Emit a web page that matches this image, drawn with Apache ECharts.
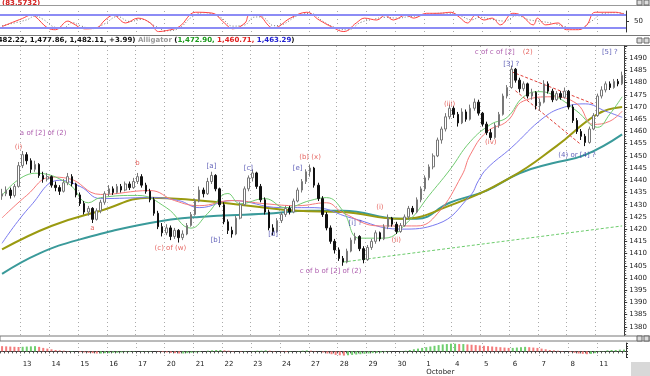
<!DOCTYPE html>
<html>
<head>
<meta charset="utf-8">
<script src="https://cdn.jsdelivr.net/npm/echarts@6/dist/echarts.min.js"></script>
<style>
html, body { margin: 0; padding: 0; background: #fff; }
#chart { width: 650px; height: 376px; }
</style>
</head>
<body>
<div id="chart"></div>
<script>
// trading days shown on the date axis (Sep 10 is a partial day)
const dayLabels = ['10','13','14','15','16','17','20','21','22','23','24','27','28','29','30','1','4','5','6','7','8','11'];
const barsPerDay = [5,7,7,7,7,7,7,7,7,7,7,7,7,7,7,7,7,7,7,7,7,7];
const monthStart = '1';
const monthName = 'October';

// price bars: [open, close, low, high]
const ohlc = [
  [1433.5,1434.5,1432.0,1436.5],[1434.5,1436.0,1433.5,1437.5],[1436.0,1433.8,1432.5,1437.0],[1433.8,1437.5,1433.0,1438.5],
  [1437.5,1446.0,1437.0,1447.5],[1446.0,1450.5,1445.0,1452.0],[1450.5,1448.0,1446.5,1451.5],[1448.0,1444.5,1443.0,1449.0],
  [1444.5,1446.5,1443.5,1448.0],[1446.5,1442.0,1441.0,1447.0],[1442.0,1440.5,1439.0,1443.5],[1440.5,1441.5,1439.5,1443.0],
  [1441.5,1438.0,1437.0,1442.0],[1438.0,1437.0,1435.5,1439.5],[1437.0,1435.5,1434.0,1438.0],[1435.5,1439.0,1435.0,1440.5],
  [1439.0,1441.5,1438.0,1443.0],[1441.5,1438.5,1437.5,1442.5],[1438.5,1434.0,1433.0,1439.0],[1434.0,1430.5,1429.5,1435.0],
  [1430.5,1427.0,1426.0,1431.5],[1427.0,1428.5,1425.5,1429.5],[1428.5,1424.0,1422.5,1429.0],[1424.0,1427.5,1423.5,1428.5],
  [1427.5,1431.0,1426.5,1432.0],[1431.0,1434.5,1430.0,1435.5],[1434.5,1436.5,1433.5,1438.0],[1436.5,1435.0,1434.0,1437.5],
  [1435.0,1437.5,1434.5,1438.5],[1437.5,1436.0,1435.0,1438.5],[1436.0,1438.5,1435.5,1439.5],[1438.5,1437.0,1436.0,1439.5],
  [1437.0,1439.5,1436.5,1441.0],[1439.5,1441.5,1438.5,1443.0],[1441.5,1438.0,1437.0,1442.5],[1438.0,1435.5,1434.5,1439.0],
  [1435.5,1432.0,1431.0,1436.5],[1432.0,1426.5,1425.5,1433.0],[1426.5,1421.0,1420.0,1427.5],[1421.0,1418.5,1417.0,1422.5],
  [1418.5,1420.5,1417.5,1422.0],[1420.5,1417.0,1415.5,1421.5],[1417.0,1419.5,1416.0,1420.5],[1419.5,1416.5,1414.5,1420.0],
  [1416.5,1418.0,1415.5,1419.5],[1418.0,1421.5,1417.5,1422.5],[1421.5,1426.0,1421.0,1427.0],[1426.0,1431.5,1425.5,1432.5],
  [1431.5,1436.0,1431.0,1437.5],[1436.0,1434.5,1433.0,1437.0],[1434.5,1439.5,1434.0,1441.0],[1439.5,1442.0,1438.5,1443.5],
  [1442.0,1436.5,1435.5,1442.5],[1436.5,1430.0,1429.0,1437.0],[1430.0,1423.0,1422.0,1431.0],[1423.0,1419.5,1418.0,1424.0],
  [1419.5,1418.0,1416.5,1421.0],[1418.0,1424.5,1417.5,1425.5],[1424.5,1430.0,1424.0,1431.0],[1430.0,1436.5,1429.5,1437.5],
  [1436.5,1441.0,1435.5,1442.0],[1441.0,1443.0,1439.5,1444.5],[1443.0,1437.5,1436.5,1443.5],[1437.5,1432.0,1431.0,1438.5],
  [1432.0,1427.0,1426.0,1433.0],[1427.0,1420.5,1419.5,1428.0],[1420.5,1419.0,1417.5,1422.0],[1419.0,1423.5,1418.5,1424.5],
  [1423.5,1426.0,1422.5,1427.0],[1426.0,1428.5,1425.0,1429.5],[1428.5,1427.0,1426.0,1429.5],[1427.0,1431.5,1426.5,1432.5],
  [1431.5,1436.0,1431.0,1437.0],[1436.0,1439.5,1435.0,1440.5],[1439.5,1443.5,1438.5,1444.5],[1443.5,1445.0,1441.5,1446.5],
  [1445.0,1438.0,1437.0,1445.5],[1438.0,1432.5,1431.5,1439.0],[1432.5,1426.0,1425.0,1433.5],[1426.0,1420.5,1419.5,1427.0],
  [1420.5,1415.0,1414.0,1421.5],[1415.0,1411.5,1410.0,1416.0],[1411.5,1408.0,1407.0,1412.5],[1408.0,1406.5,1405.0,1409.0],
  [1406.5,1411.0,1406.0,1412.0],[1411.0,1415.5,1410.5,1416.5],[1415.5,1417.0,1414.0,1418.5],[1417.0,1412.0,1411.0,1417.5],
  [1412.0,1407.5,1406.0,1413.0],[1407.5,1412.5,1407.0,1413.5],[1412.5,1415.0,1411.5,1416.0],[1415.0,1418.5,1414.0,1419.5],
  [1418.5,1416.0,1415.0,1419.0],[1416.0,1421.0,1415.5,1422.0],[1421.0,1424.5,1420.0,1426.0],[1424.5,1422.0,1421.0,1425.0],
  [1422.0,1419.0,1418.0,1423.0],[1419.0,1421.5,1418.5,1422.5],[1421.5,1425.0,1421.0,1426.0],[1425.0,1428.5,1424.0,1429.5],
  [1428.5,1427.0,1426.0,1429.5],[1427.0,1432.0,1426.5,1433.0],[1432.0,1436.5,1431.0,1437.5],[1436.5,1441.0,1435.5,1442.0],
  [1441.0,1445.5,1440.0,1446.5],[1445.5,1450.0,1444.5,1451.0],[1450.0,1456.5,1449.5,1457.5],[1456.5,1461.0,1455.0,1462.0],
  [1461.0,1466.0,1460.0,1467.5],[1466.0,1469.5,1465.0,1471.0],[1469.5,1467.0,1465.5,1470.5],[1467.0,1463.5,1462.0,1468.0],
  [1463.5,1468.0,1463.0,1469.5],[1468.0,1465.0,1464.0,1469.0],[1465.0,1469.5,1464.5,1471.0],[1469.5,1472.0,1468.5,1473.5],
  [1472.0,1467.5,1466.5,1473.0],[1467.5,1463.0,1462.0,1468.0],[1463.0,1459.5,1458.5,1464.0],[1459.5,1457.5,1456.5,1461.0],
  [1457.5,1462.5,1457.0,1463.5],[1462.5,1467.0,1461.5,1468.0],[1467.0,1474.5,1466.5,1475.5],[1474.5,1478.0,1473.5,1479.0],
  [1478.0,1485.5,1477.5,1487.0],[1485.5,1481.0,1480.0,1486.0],[1481.0,1477.5,1476.0,1482.0],[1477.5,1479.5,1476.5,1480.5],
  [1479.5,1474.5,1473.5,1480.0],[1474.5,1476.0,1473.0,1477.5],[1476.0,1470.5,1469.0,1476.5],[1470.5,1472.0,1468.5,1473.5],
  [1472.0,1479.5,1471.5,1481.0],[1479.5,1476.5,1475.5,1480.5],[1476.5,1473.0,1472.0,1477.5],[1473.0,1475.5,1472.5,1476.5],
  [1475.5,1474.0,1473.0,1476.5],[1474.0,1476.5,1473.5,1478.0],[1476.5,1470.0,1469.0,1477.0],[1470.0,1464.5,1463.5,1471.0],
  [1464.5,1460.0,1459.0,1465.5],[1460.0,1458.0,1456.5,1461.0],[1458.0,1455.5,1454.0,1459.0],[1455.5,1461.0,1455.0,1462.0],
  [1461.0,1466.5,1460.5,1467.5],[1466.5,1474.5,1466.0,1475.5],[1474.5,1477.0,1473.5,1478.5],[1477.0,1479.5,1476.0,1480.5],
  [1479.5,1478.0,1477.0,1480.5],[1478.0,1480.5,1477.5,1481.5],[1480.5,1479.5,1478.5,1481.5],[1479.5,1483.0,1479.0,1484.5]
];

// moving averages: [bar index, price]
const maGreen = [[0,1433.8],[8,1442.9],[16,1438.8],[21,1430.8],[24,1432.9],[33,1433.8],[40,1428.8],[46,1420.4],[50,1426.3],[55,1434.6],[58,1430.4],[64,1432.5],[69,1428.8],[75,1431.7],[79,1432.9],[83,1427.5],[87,1416.3],[93,1416.3],[99,1423.3],[104,1433.8],[109,1444.2],[114,1455.8],[119,1462.9],[123,1465.8],[127,1474.2],[131,1476.3],[135,1474.2],[140,1468.3],[145,1461.7],[148,1467.1],[151,1474.2]];
const maRed = [[0,1424.6],[6,1433.8],[12,1441.3],[16,1440.8],[24,1434.2],[36,1435.8],[42,1431.7],[48,1429.6],[56,1431.7],[64,1430.4],[72,1429.6],[79,1430.8],[83,1426.7],[92,1421.3],[101,1421.3],[106,1426.3],[112,1442.1],[114,1450.4],[118,1459.8],[123,1464.2],[127,1472.5],[134,1474.2],[140,1471.3],[144,1462.9],[148,1464.2],[151,1468.3]];
const maBlue = [[0,1414.2],[7,1429.6],[14,1440.0],[19,1437.5],[24,1432.5],[36,1432.9],[43,1431.7],[48,1428.8],[56,1431.7],[68,1428.8],[76,1428.8],[85,1424.6],[97,1420.0],[106,1422.1],[114,1433.7],[116,1439.8],[118,1444.7],[124,1453.3],[132,1465.8],[137,1470.0],[142,1471.3],[147,1468.3],[151,1465.8]];
const maOlive = [[0,1411.7],[12,1421.3],[24,1427.5],[36,1432.9],[48,1431.7],[60,1429.6],[72,1427.5],[83,1427.0],[97,1424.2],[109,1429.6],[124,1441.3],[135,1454.0],[145,1467.1],[151,1470.0]];
const maTeal = [[0,1401.7],[9,1410.0],[19,1415.8],[36,1422.5],[48,1425.0],[64,1426.3],[75,1427.5],[83,1427.5],[97,1424.2],[101,1424.2],[109,1430.8],[118,1435.8],[126,1442.9],[134,1447.0],[142,1450.4],[151,1458.8]];

// trend lines: [from bar, from price, to bar, to price, colour key]
const trendLines = [
  [83,1406.5,151,1421.3,'g'],
  [124,1484.5,144,1471.3,'r'],
  [125,1476.7,141,1454.6,'r']
];

// wave count labels: [bar index, price, text, colour key]
const waveLabels = [
  [10,1459.4,'a of [2] of (2)','p'],
  [4,1453.6,'(i)','r'],
  [22,1420.5,'a','r'],
  [33,1447.1,'b','r'],
  [41,1412.3,'(c) of (w)','r'],
  [51,1445.9,'[a]','b'],
  [52,1415.5,'[b]','b'],
  [60,1445.0,'[c]','b'],
  [66,1418.0,'[d]','b'],
  [72,1445.0,'[e]','b'],
  [75,1449.5,'(b) (x)','r'],
  [80,1402.8,'c of b of [2] of (2)','p'],
  [86,1422.5,'[i] ?','b'],
  [92,1429.0,'(i)','r'],
  [96,1415.5,'(ii)','r'],
  [109,1471.3,'(iii)','r'],
  [119,1455.7,'(iv)','r'],
  [120,1492.6,'c of c of [2]','p'],
  [128,1492.6,'(2)','r'],
  [124,1487.7,'[3] ?','b'],
  [140,1450.4,'(4) or [4] ?','b'],
  [148,1492.6,'[5] ?','b']
];

// upper oscillator: [bar index, value]
const oscRed = [[0,26],[5,65],[7,80],[8,75],[11,20],[13,11],[16,52],[17,43],[20,15],[23,20],[25,57],[27,80],[30,43],[33,66],[36,43],[38,2],[40,7],[43,25],[47,94],[51,90],[54,43],[56,15],[59,43],[60,80],[62,80],[65,25],[66,20],[70,66],[74,94],[77,57],[80,25],[83,2],[86,43],[88,66],[91,57],[93,80],[95,57],[98,80],[100,66],[103,89],[106,89],[109,94],[111,71],[113,43],[115,80],[117,57],[119,66],[121,34],[124,89],[126,80],[129,34],[130,66],[132,34],[135,43],[137,11],[140,11],[142,34],[144,94],[149,94],[151,85]];
const oscGray = [[0,30],[6,58],[8,76],[10,60],[13,22],[15,20],[17,45],[19,30],[22,16],[25,40],[28,74],[31,50],[34,60],[37,30],[40,6],[43,18],[46,70],[49,92],[53,70],[56,28],[59,34],[61,70],[63,72],[66,30],[68,35],[72,80],[75,88],[78,50],[81,20],[84,10],[87,45],[90,60],[93,70],[96,66],[99,74],[102,78],[105,88],[108,90],[111,80],[114,58],[116,70],[119,60],[122,52],[125,78],[128,58],[131,50],[134,40],[137,24],[140,14],[143,50],[146,88],[149,92],[151,88]];

// lower histogram, one value per bar
const histVals = [
  7.5,7.2,6.9,6.6,6.3, 6.6,6.9,7.2,7.5, 6.5,5,4,3,2, 1.5,1,0.5,0.5,0,
  -1,-1.5,-2,-2.5,-3,-3, -2.5,-2.5,-2,-2,-1.5,-1, -1,-0.5,0,0.5,0.5,0.5,
  0,-0.5,-1,-1.5,-2,-2.5, -3,-3,-2.5,-2,-1.5,-1, 0,1,1.5,2,2,1.5,1,
  0.5,0,-0.5,-0.5,0,0.5,1, 1,1.5,1,0.5,0,-0.5,-1, -0.5,0,0.5,1,1.5,1,0.5,
  0,-1.5,-3,-4,-5,-5.5,-6, -5.5,-5,-4.5,-4,-3.5,-3,-2.5, -2,-1.5,-1,-0.5,0,0,0.5,
  1,2,3,4,5,6,7, 8,9,10,10.5,11,11,10.5, 10.5,10,9.5,9,8.5,8,7.5,
  7,6.5,6,5.5,5,5,5.5, 6,6.5,6,5.5,5,4,3, 2,1.5,1,0.5,0,-1,-2,
  -3,-3.5,-4,-3.5,-2.5,-1, 0.5,1.5,2,2,2.5,2.5
];

const categories = [];
dayLabels.forEach((d, k) => {
  for (let j = 0; j < barsPerDay[k]; j++) categories.push(d + '|' + j);
});
const isDayStart = (i) => i > 0 && categories[i].endsWith('|0');

const colors = { p: '#993399', r: '#e0403a', b: '#3a3aa8', g: '#6ccc6c' };
const FONT = 'DejaVu Sans';

function xAxisFor(gridIndex, showLabels) {
  return {
    type: 'category',
    gridIndex: gridIndex,
    data: categories,
    boundaryGap: true,
    axisLine: { show: showLabels, lineStyle: { color: '#333' } },
    axisTick: { show: showLabels, interval: 0, length: 2, lineStyle: { color: '#555' } },
    axisLabel: {
      show: showLabels,
      interval: (i) => isDayStart(i),
      align: 'left',
      margin: 3,
      fontSize: 7,
      fontFamily: FONT,
      color: '#222',
      lineHeight: 8,
      formatter: (v) => {
        const d = v.split('|')[0];
        return d === monthStart ? d + '\n' + monthName : d;
      }
    },
    splitLine: {
      show: true,
      interval: (i) => isDayStart(i),
      lineStyle: { color: '#aaa', type: [1, 3], width: 1 }
    }
  };
}

const maLine = (name, data, color, width) => ({
  name: name,
  type: 'line',
  xAxisIndex: 1,
  yAxisIndex: 1,
  data: data,
  smooth: 0.45,
  symbol: 'none',
  lineStyle: { color: color, width: width },
  z: 3
});

const chart = echarts.init(document.getElementById('chart'));

const option = {
  animation: false,
  backgroundColor: '#fff',
  grid: [
    { left: 0, right: 24, top: 11, height: 21 },
    { left: 0, right: 24, top: 46, height: 293 },
    { left: 0, right: 24, top: 343, height: 18 }
  ],
  xAxis: [xAxisFor(0, false), xAxisFor(1, false), xAxisFor(2, true)],
  yAxis: [
    {
      type: 'value', gridIndex: 0, position: 'right', min: 0, max: 100, interval: 50,
      axisLine: { show: true, lineStyle: { color: '#333' } },
      axisTick: { show: true, length: 3 },
      splitLine: { show: false },
      axisLabel: { showMinLabel: false, showMaxLabel: false, fontSize: 7, fontFamily: FONT, color: '#222', margin: 8 }
    },
    {
      type: 'value', gridIndex: 1, position: 'right', min: 1375, max: 1495, interval: 5,
      axisLine: { show: true, lineStyle: { color: '#333' } },
      axisTick: { show: true, length: 3, lineStyle: { color: '#333' } },
      minorTick: { show: true, splitNumber: 5, length: 2, lineStyle: { color: '#555' } },
      splitLine: { show: false },
      axisLabel: {
        showMinLabel: false, showMaxLabel: false, fontSize: 7, fontFamily: FONT, color: '#222', margin: 5,
        formatter: (v) => String(v)
      }
    },
    {
      type: 'value', gridIndex: 2, position: 'right', min: -8, max: 12, interval: 4,
      axisLine: { show: true, lineStyle: { color: '#333' } },
      axisTick: { show: true, length: 2 },
      splitLine: { show: false },
      axisLabel: { show: false }
    }
  ],
  series: [
    {
      name: 'osc', type: 'line', xAxisIndex: 0, yAxisIndex: 0, data: oscRed,
      smooth: 0.4, symbol: 'none', lineStyle: { color: '#ff4444', width: 1 }, z: 4,
      markLine: {
        silent: true, symbol: 'none', label: { show: false },
        lineStyle: { color: '#8c8cf5', width: 2, type: 'solid' },
        data: [{ yAxis: 80 }, { yAxis: 20 }]
      }
    },
    {
      name: 'signal', type: 'line', xAxisIndex: 0, yAxisIndex: 0, data: oscGray,
      smooth: 0.4, symbol: 'none', lineStyle: { color: '#777', width: 1, type: [1, 2] }, z: 3
    },
    maLine('teal', maTeal, '#3a9a9a', 2),
    maLine('olive', maOlive, '#9a9a10', 2),
    maLine('blue', maBlue, '#7a7af0', 1),
    maLine('red', maRed, '#f77a7a', 1),
    maLine('green', maGreen, '#72cc72', 1),
    {
      name: 'price', type: 'candlestick', xAxisIndex: 1, yAxisIndex: 1, data: ohlc,
      barMaxWidth: 3,
      itemStyle: { color: '#fff', color0: '#111', borderColor: '#777', borderColor0: '#111', borderWidth: 1 },
      z: 5,
      markLine: {
        silent: true, symbol: 'none', label: { show: false },
        data: trendLines.map(t => [
          { coord: [t[0], t[1]], lineStyle: { color: colors[t[4]], type: [3, 2], width: 1 } },
          { coord: [t[2], t[3]] }
        ])
      }
    },
    {
      name: 'labels', type: 'scatter', xAxisIndex: 1, yAxisIndex: 1, symbolSize: 0, z: 6,
      data: waveLabels.map(w => ({
        value: [w[0], w[1]],
        label: { color: colors[w[3]] },
        name: w[2]
      })),
      label: {
        show: true, position: 'inside', formatter: (p) => p.name,
        fontSize: 7, fontFamily: FONT
      }
    },
    {
      name: 'hist', type: 'bar', xAxisIndex: 2, yAxisIndex: 2, data: histVals, barWidth: 2,
      itemStyle: {
        color: (p) => {
          const i = p.dataIndex;
          return i > 0 && histVals[i] >= histVals[i - 1] ? '#6fcf6f' : '#f47b7b';
        }
      }
    }
  ],
  graphic: [
    { type: 'text', left: 2, top: 0, style: { text: '(83.5732)', fill: '#d42020', font: 'bold 7px DejaVu Sans' } },
    { type: 'line', shape: { x1: 0, y1: 5.5, x2: 650, y2: 5.5 }, style: { stroke: '#999' } },
    { type: 'line', shape: { x1: 0, y1: 35.5, x2: 650, y2: 35.5 }, style: { stroke: '#777' } },
    { type: 'line', shape: { x1: 0, y1: 45.5, x2: 650, y2: 45.5 }, style: { stroke: '#777' } },
    {
      type: 'text', x: -13, y: 37,
      style: {
        text: '{k|(1,482.22, 1,477.86, 1,482.11, +3.99)} {a|Alligator} {k|(}{g|1,472.90,} {r|1,460.71,} {b|1,463.29}{k|)}',
        font: 'bold 7px DejaVu Sans',
        rich: {
          k: { fill: '#111', font: 'bold 7px DejaVu Sans' },
          a: { fill: '#999', font: 'bold 7px DejaVu Sans' },
          g: { fill: '#1a9a1a', font: 'bold 7px DejaVu Sans' },
          r: { fill: '#e02020', font: 'bold 7px DejaVu Sans' },
          b: { fill: '#2020d0', font: 'bold 7px DejaVu Sans' }
        }
      }
    },
    { type: 'rect', shape: { x: 0, y: 336, width: 650, height: 5 }, style: { fill: '#fff', stroke: '#777' }, z: 10 },
    { type: 'rect', shape: { x: 637, y: 0, width: 5, height: 5 }, style: { fill: '#ddd', stroke: '#666' } },
    { type: 'rect', shape: { x: 644, y: 0, width: 5, height: 5 }, style: { fill: '#ddd', stroke: '#666' } },
    { type: 'rect', shape: { x: 637, y: 38, width: 5, height: 5 }, style: { fill: '#ddd', stroke: '#666' } },
    { type: 'rect', shape: { x: 644, y: 38, width: 5, height: 5 }, style: { fill: '#ddd', stroke: '#666' } },
    { type: 'rect', shape: { x: 637, y: 336, width: 5, height: 5 }, style: { fill: '#ddd', stroke: '#666' }, z: 11 },
    { type: 'rect', shape: { x: 644, y: 336, width: 5, height: 5 }, style: { fill: '#ddd', stroke: '#666' }, z: 11 },
    { type: 'rect', shape: { x: 631, y: 362, width: 19, height: 14 }, style: { fill: '#d8d8d8' } }
  ]
};

chart.setOption(option);
</script>
</body>
</html>
